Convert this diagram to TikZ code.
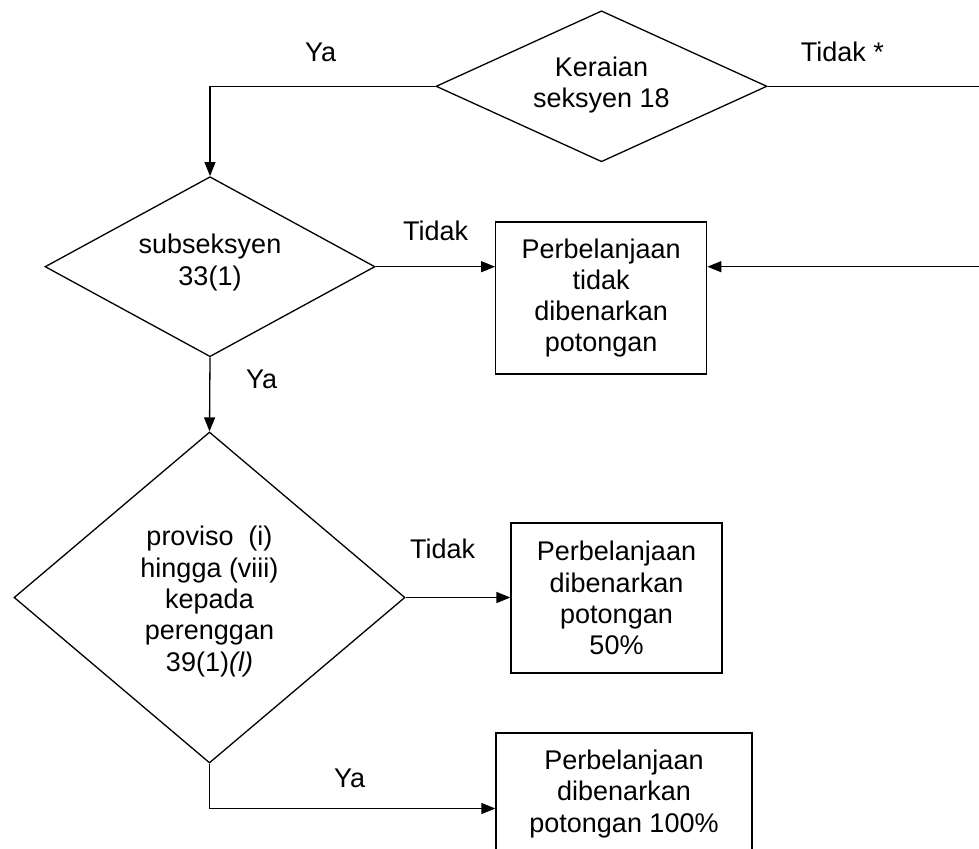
\documentclass[tikz,border=0pt]{standalone}
\usepackage{fontspec}
\setmainfont{Liberation Sans}
\usetikzlibrary{shapes.geometric,arrows.meta}
\begin{document}
\begin{tikzpicture}[x=1pt,y=-1pt,
  every node/.style={font=\fontsize{27}{31.3}\selectfont, align=center, inner sep=0pt},
  dec/.style={diamond, draw, line width=1.3pt},
  outbox/.style={rectangle, draw, line width=1.3pt},
  conn/.style={line width=1.3pt},
  arr/.style={conn, -{Triangle[length=14pt,width=11pt]}},
  lbl/.style={anchor=base west}]
\useasboundingbox (0,0) rectangle (979,848);

% decisions
\node[dec, minimum width=331pt, minimum height=151pt, shape aspect=2.2] (d1) at (601.5,86.3) {};
\node (d1t) at (601.5,85) {\fontsize{27}{24}\selectfont Keraian\\seksyen 18};
\node[dec, minimum width=330pt, minimum height=180pt, shape aspect=1.83] (d2) at (210,266.7) {};
\node (d2t) at (210,262.5) {subseksyen\\33(1)};
\node[dec, minimum width=391pt, minimum height=331pt, shape aspect=1.18] (d3) at (209.5,597.5) {};
\node (d3t) at (209.5,601.5) {proviso\ \ (i)\\hingga (viii)\\kepada\\perenggan\\39(1)\textit{(l)}};

% outcomes
\node[outbox, minimum width=211pt, minimum height=152pt] (b1) at (601.2,298)
  {Perbelanjaan\\tidak\\dibenarkan\\potongan};
\node[outbox, minimum width=211pt, minimum height=150pt] (b2) at (616.5,598)
  {Perbelanjaan\\dibenarkan\\potongan\\50\%};
\node[outbox, minimum width=256pt, minimum height=122pt] (b3) at (624,794)
  {Perbelanjaan\\dibenarkan\\potongan 100\%};

% helper coordinates
\coordinate (xr) at (990,86.3);
\coordinate (c3) at (209.5,808.5);

% connectors
\draw[arr] (d1.west) -| (d2.north);
\draw[arr] (d1.east) -- (xr) -- (xr |- d2.east) -- (d2.east -| b1.east);
\draw[arr] (d2.east) -- (d2.east -| b1.west);
\draw[arr] (d2.south) -- (d3.north);
\draw[arr] (d3.east) -- (d3.east -| b2.west);
\draw[arr] (d3.south) -- (c3) -- (c3 -| b3.west);

% labels
\node[lbl] (l1) at (305,61.7) {Ya};
\node[lbl] (l2) at (800.7,61.7) {Tidak *};
\node[lbl] (l3) at (403,240.7) {Tidak};
\node[lbl] (l4) at (246,388) {Ya};
\node[lbl] (l5) at (410,558.3) {Tidak};
\node[lbl] (l6) at (334,787) {Ya};
\end{tikzpicture}
\end{document}
